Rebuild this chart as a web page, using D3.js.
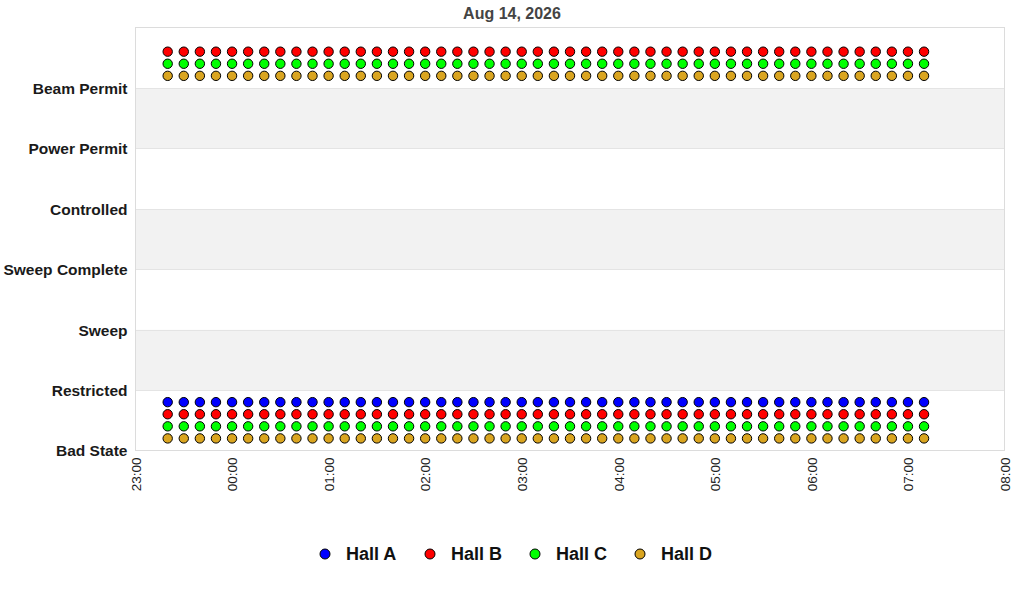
<!DOCTYPE html>
<html><head><meta charset="utf-8">
<script src="https://cdn.jsdelivr.net/npm/d3@7/dist/d3.min.js"></script>
<style>body{margin:0;background:#fff;} svg{display:block;font-family:"Liberation Sans",Arial,sans-serif;}</style>
</head><body><svg id="c" width="1024" height="600"></svg>
<script>
const title = "Aug 14, 2026";
const stateLabels = ["Bad State","Restricted","Sweep","Sweep Complete","Controlled","Power Permit","Beam Permit"];
const xTickLabels = ["23:00","00:00","01:00","02:00","03:00","04:00","05:00","06:00","07:00","08:00"];
const xDomain = ["2026-08-13T23:00","2026-08-14T08:00"];
const times = [
"2026-08-13T23:20","2026-08-13T23:30","2026-08-13T23:40","2026-08-13T23:50",
"2026-08-14T00:00","2026-08-14T00:10","2026-08-14T00:20","2026-08-14T00:30","2026-08-14T00:40","2026-08-14T00:50",
"2026-08-14T01:00","2026-08-14T01:10","2026-08-14T01:20","2026-08-14T01:30","2026-08-14T01:40","2026-08-14T01:50",
"2026-08-14T02:00","2026-08-14T02:10","2026-08-14T02:20","2026-08-14T02:30","2026-08-14T02:40","2026-08-14T02:50",
"2026-08-14T03:00","2026-08-14T03:10","2026-08-14T03:20","2026-08-14T03:30","2026-08-14T03:40","2026-08-14T03:50",
"2026-08-14T04:00","2026-08-14T04:10","2026-08-14T04:20","2026-08-14T04:30","2026-08-14T04:40","2026-08-14T04:50",
"2026-08-14T05:00","2026-08-14T05:10","2026-08-14T05:20","2026-08-14T05:30","2026-08-14T05:40","2026-08-14T05:50",
"2026-08-14T06:00","2026-08-14T06:10","2026-08-14T06:20","2026-08-14T06:30","2026-08-14T06:40","2026-08-14T06:50",
"2026-08-14T07:00","2026-08-14T07:10"];
const seriesNames = ["Hall A","Hall B","Hall C","Hall D"];
const seriesColors = ["#0000ff","#ff0000","#00ff00","#daa520"];
// plotted levels for each series (state index + hall offset), constant across all times
const hallALevels = [0.8];
const hallBLevels = [0.6, 6.6];
const hallCLevels = [0.4, 6.4];
const hallDLevels = [0.2, 6.2];
const seriesLevels = [hallALevels, hallBLevels, hallCLevels, hallDLevels];

const svg = d3.select("#c");
const parse = d3.timeParse("%Y-%m-%dT%H:%M");
const M = {l:135.5, r:1004.5, t:27.5, b:450.5};
const x = d3.scaleTime().domain(xDomain.map(parse)).range([M.l, M.r]);
const y = d3.scaleLinear().domain([0, 7]).range([M.b, M.t]);

// bands
const bands = d3.range(7);
svg.append("g").selectAll("rect").data(bands).join("rect")
  .attr("x", M.l).attr("width", M.r - M.l)
  .attr("y", d => y(d+1)).attr("height", d => y(d) - y(d+1))
  .attr("fill", d => (d % 2 === 1) ? "#f2f2f2" : "#ffffff");
// grid lines
svg.append("g").selectAll("line").data(d3.range(1,7)).join("line")
  .attr("x1", M.l).attr("x2", M.r).attr("y1", d => Math.round(y(d))+0.5).attr("y2", d => Math.round(y(d))+0.5)
  .attr("stroke", "#e4e4e4");
svg.append("rect").attr("x", M.l).attr("y", M.t).attr("width", M.r-M.l).attr("height", M.b-M.t)
  .attr("fill","none").attr("stroke","#dcdcdc");

// y axis labels
const yAxis = d3.axisLeft(y).tickValues(d3.range(7)).tickSize(0).tickPadding(8)
  .tickFormat(i => stateLabels[i]);
const gy = svg.append("g").attr("transform", `translate(${M.l},0)`).call(yAxis);
gy.select(".domain").remove();
gy.selectAll("text").attr("font-size", 15.5).attr("font-weight","bold").attr("fill","#1a1a1a")
  .attr("font-family","'Liberation Sans',Arial,sans-serif").attr("dy","0.35em");

// x axis
const xTicks = xTickLabels.map((t,i) => x.domain()[0].getTime() + i*3600000).map(v => new Date(v));
const xAxis = d3.axisBottom(x).tickValues(xTicks).tickSize(0).tickPadding(0)
  .tickFormat((d,i) => xTickLabels[i]);
const gx = svg.append("g").attr("transform", `translate(0,${M.b})`).call(xAxis);
gx.select(".domain").remove();
gx.selectAll("text").attr("font-size", 13.5).attr("fill","#222")
  .attr("font-family","'Liberation Sans',Arial,sans-serif")
  .attr("text-anchor","end").attr("transform","rotate(-90)")
  .attr("x", -7).attr("y", 0).attr("dy","0.35em");

// points
const pts = [];
seriesLevels.forEach((levels, si) => levels.forEach(lv => times.forEach(t => pts.push({si, t: parse(t), v: lv}))));
svg.append("g").selectAll("circle").data(pts).join("circle")
  .attr("cx", d => x(d.t)).attr("cy", d => y(d.v)).attr("r", 4.7)
  .attr("fill", d => seriesColors[d.si]).attr("stroke","#000").attr("stroke-width",1);

// title
svg.append("text").attr("x", 512).attr("y", 19).attr("text-anchor","middle")
  .attr("font-size", 16).attr("font-weight","bold").attr("fill","#444").text(title);

// legend
const legX = [325, 430, 535, 640];
const lg = svg.append("g").selectAll("g").data(seriesNames).join("g")
  .attr("transform", (d,i) => `translate(${legX[i]},554)`);
lg.append("circle").attr("r", 5).attr("fill", (d,i) => seriesColors[i]).attr("stroke","#000");
lg.append("text").attr("x", 21).attr("dy","0.36em").attr("font-size", 18).attr("font-weight","bold")
  .attr("fill","#111").text(d => d);
</script></body></html>
